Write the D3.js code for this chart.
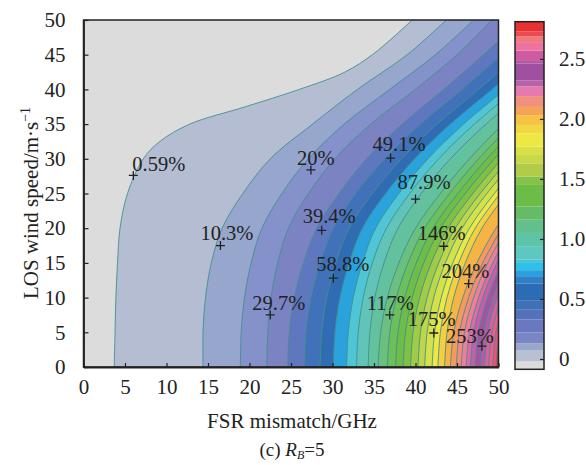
<!DOCTYPE html>
<html>
<head>
<meta charset="utf-8">
<script src="https://cdn.jsdelivr.net/npm/d3@7"></script>
<style>
  body { margin: 0; background: #fff; }
  text { font-family: "Liberation Serif", "Times New Roman", serif; fill: #222; }
</style>
</head>
<body>
<svg id="chart" width="586" height="465"></svg>
<script>
// axis ticks
const xTicks = [0, 5, 10, 15, 20, 25, 30, 35, 40, 45, 50];
const yTicks = [0, 5, 10, 15, 20, 25, 30, 35, 40, 45, 50];
const cbarTicks = [0, 0.5, 1.0, 1.5, 2.0, 2.5];

// contour lines, [FSR mismatch GHz, wind speed m/s], lowest level first
const contourLines = [
  [[3.7,0],[3.8,5],[3.9,10],[4.1,15],[4.4,20],[5.3,25],[7.2,30],[9.2,32.5],[12.8,35],[19.5,37.5],[26,40],[31.5,42.5],[34.8,45],[37.3,47.5],[39.6,50]],
  [[14.4,0],[14.4,5],[14.7,10],[15.4,15],[16.7,20],[19.2,25],[22.5,30],[27.6,35],[33.0,40],[39.0,45],[43.7,50]],
  [[18.9,0],[19.0,5],[19.4,10],[20.2,15],[21.5,20],[23.9,25],[27.1,30],[31.4,35],[36.9,40],[42.4,45],[47.0,50]],
  [[22.1,0],[22.2,5],[22.6,10],[23.4,15],[24.7,20],[27.1,25],[30.3,30],[34.6,35],[40.0,40],[45.0,45],[49.2,50]],
  [[24.6,0],[24.8,5],[25.4,10],[26.5,15],[28.1,20],[30.8,25],[34.1,30],[38.4,35],[43.4,40],[48.2,45],[52.6,50]],
  [[26.6,0],[26.8,5],[27.4,10],[28.5,15],[30.1,20],[32.8,25],[36.3,30],[40.6,35],[45.6,40],[50.4,45]],
  [[28.5,0],[28.7,5],[29.3,10],[30.4,15],[32.0,20],[34.8,25],[38.3,30],[42.6,35],[47.6,40],[52.4,45]],
  [[30.1,0],[30.3,5],[30.9,10],[32.0,15],[33.6,20],[36.4,25],[39.9,30],[44.2,35],[49.2,40],[54.0,45]],
  [[31.7,0],[31.9,5],[32.5,10],[33.6,15],[35.2,20],[38.0,25],[41.5,30],[45.8,35],[50.8,40]],
  [[32.9,0],[33.1,5],[33.7,10],[34.8,15],[36.5,20],[39.3,25],[42.8,30],[47.1,35],[52.1,40]],
  [[34.3,0],[34.5,5],[35.1,10],[36.2,15],[37.9,20],[40.7,25],[44.2,30],[48.5,35],[53.5,40]],
  [[35.5,0],[35.8,5],[36.6,10],[38.0,15],[40.0,20],[43.0,25],[46.5,30],[50.5,35]],
  [[36.6,0],[36.9,5],[37.7,10],[39.1,15],[41.1,20],[44.1,25],[47.6,30],[51.6,35]],
  [[37.6,0],[37.9,5],[38.7,10],[40.1,15],[42.1,20],[45.1,25],[48.6,30],[52.6,35]],
  [[38.5,0],[38.8,5],[39.6,10],[41.0,15],[43.0,20],[46.0,25],[49.5,30],[53.5,35]],
  [[39.4,0],[39.7,5],[40.5,10],[41.9,15],[43.9,20],[46.9,25],[50.4,30]],
  [[40.3,0],[40.6,5],[41.4,10],[42.8,15],[44.8,20],[47.8,25],[51.3,30]],
  [[41.1,0],[41.4,5],[42.2,10],[43.6,15],[45.6,20],[48.6,25],[52.1,30]],
  [[42.0,0],[42.3,5],[43.1,10],[44.5,15],[46.5,20],[49.5,25],[53.0,30]],
  [[42.7,0],[43.0,5],[43.8,10],[45.2,15],[47.2,20],[50.2,25]],
  [[43.5,0],[43.8,5],[44.6,10],[46.0,15],[48.0,20],[51.0,25]],
  [[44.2,0],[44.6,5],[45.7,10],[47.4,15],[49.7,20],[52.7,25]],
  [[44.9,0],[45.3,5],[46.4,10],[48.1,15],[50.4,20]],
  [[45.5,0],[45.9,5],[47.0,10],[48.7,15],[51.0,20]],
  [[46.1,0],[46.5,5],[47.6,10],[49.3,15],[51.6,20]],
  [[46.6,0],[47.0,5],[48.1,10],[49.8,15],[52.1,20]],
  [[47.2,0],[47.6,5],[48.7,10],[50.4,15]],
  [[47.8,0],[48.2,5],[49.3,10],[51.0,15]],
  [[48.3,0],[48.7,5],[49.8,10],[51.5,15]],
  [[48.8,0],[49.2,5],[50.3,10]],
  [[49.3,0],[49.7,5],[50.8,10]],
  [[49.7,0],[50.1,5],[51.2,10]]
];

// fill colour of each band, below the first line up to above the last one
const bandColors = [
  '#dcdcdc', '#b5bdd3', '#97a6cc', '#8491ca', '#7c83c3', '#5f77bf', '#4172b9', '#2f6cb3',
  '#2aa2dc', '#4fc5d5', '#62c3b8', '#63c19d', '#6bc07f', '#6cbf5b', '#6ebd48', '#7ec144',
  '#a1cb46', '#bdd64a', '#d6e04b', '#ece847', '#f5cf42', '#f5b444', '#f5995c', '#f38b7a',
  '#ef7f98', '#e06aa8', '#c45ea8', '#a5529f', '#b55aa6', '#d860a0', '#ec5c8c', '#f0507a',
  '#e82a2a'
];

// colour bar stripes [from, to, colour]
const cbarStripes = [
  [-0.086, -0.02, '#dcdcdc'], [-0.02, 0.075, '#b8c0d4'], [0.075, 0.13, '#98a6cc'],
  [0.13, 0.22, '#7a86c4'], [0.22, 0.33, '#6a78c0'], [0.33, 0.41, '#5472bc'],
  [0.41, 0.49, '#4070b8'], [0.49, 0.63, '#2c6cb4'], [0.63, 0.69, '#3080c8'],
  [0.69, 0.74, '#2aa0e0'], [0.74, 0.80, '#2ec0e8'], [0.80, 0.83, '#48c4d8'],
  [0.83, 0.94, '#5cc8c0'], [0.94, 1.05, '#5ec4a8'], [1.05, 1.16, '#62c08c'],
  [1.16, 1.27, '#66bc64'], [1.27, 1.45, '#6cbc48'], [1.45, 1.52, '#84c248'],
  [1.52, 1.63, '#b0cc48'], [1.63, 1.70, '#c8d848'], [1.70, 1.77, '#d8e048'],
  [1.77, 1.88, '#eee845'], [1.88, 1.95, '#f0d842'], [1.95, 2.03, '#f5c242'],
  [2.03, 2.10, '#f4a452'], [2.10, 2.19, '#f2907e'], [2.19, 2.27, '#e67ab0'],
  [2.27, 2.32, '#b862a8'], [2.32, 2.46, '#a050a0'], [2.46, 2.49, '#b458a4'],
  [2.49, 2.57, '#d05aa2'], [2.57, 2.64, '#ee72a0'], [2.64, 2.69, '#f07a7a'],
  [2.69, 2.73, '#ec4a52'], [2.73, 2.81, '#e83232']
];

// labelled points
const markers = [
  { x: 6.0, y: 27.6, label: '0.59%' },
  { x: 16.5, y: 17.5, label: '10.3%' },
  { x: 27.4, y: 28.4, label: '20%' },
  { x: 37.0, y: 30.1, label: '49.1%' },
  { x: 22.5, y: 7.5, label: '29.7%' },
  { x: 28.7, y: 19.7, label: '39.4%' },
  { x: 40.0, y: 24.2, label: '87.9%' },
  { x: 30.1, y: 12.8, label: '58.8%' },
  { x: 43.4, y: 17.4, label: '146%' },
  { x: 36.9, y: 7.5, label: '117%' },
  { x: 46.4, y: 12.0, label: '204%' },
  { x: 42.2, y: 4.9, label: '175%' },
  { x: 48.0, y: 3.0, label: '253%' }
];
// where each label text sits relative to its cross, px
const labelOffsets = [[-1,-4],[-20,-6],[-14,-5],[-18,-7],[-18,-5],[-19,-7],[-18,-10],[-17,-7],[-26,-6],[-23,-5],[-27,-6],[-26,-7],[-36,-3]];

const plot = { left: 83.5, right: 498.5, top: 20, bottom: 367 };
const bar = { left: 515, right: 544, top: 21.7, bottom: 369.3 };
const fontSize = 21;

const svg = d3.select('#chart');
const x = d3.scaleLinear().domain([0, 50]).range([plot.left, plot.right]);
const y = d3.scaleLinear().domain([0, 50]).range([plot.bottom, plot.top]);

svg.append('clipPath').attr('id', 'plotClip')
  .append('rect')
  .attr('x', plot.left).attr('y', plot.top)
  .attr('width', plot.right - plot.left).attr('height', plot.bottom - plot.top);

const field = svg.append('g').attr('clip-path', 'url(#plotClip)');

field.append('rect')
  .attr('x', plot.left).attr('y', plot.top)
  .attr('width', plot.right - plot.left).attr('height', plot.bottom - plot.top)
  .attr('fill', bandColors[0]);

const line = d3.line()
  .x(d => x(d[0]))
  .y(d => y(d[1]))
  .curve(d3.curveCatmullRom.alpha(0.5));

// each band: area to the right of its contour line
field.selectAll('path.band')
  .data(contourLines)
  .enter()
  .append('path')
  .attr('class', 'band')
  .attr('d', pts => {
    const last = pts[pts.length - 1];
    return line(pts) +
      'L' + x(60) + ',' + y(last[1]) +
      'L' + x(60) + ',' + y(-5) +
      'L' + x(pts[0][0]) + ',' + y(-5) + 'Z';
  })
  .attr('fill', (d, i) => bandColors[i + 1]);

field.selectAll('path.iso')
  .data(contourLines)
  .enter()
  .append('path')
  .attr('class', 'iso')
  .attr('d', line)
  .attr('fill', 'none')
  .attr('stroke', '#43908d')
  .attr('stroke-width', 0.9);

// axes
const xAxis = svg.append('g')
  .attr('transform', 'translate(0,' + plot.bottom + ')')
  .call(d3.axisBottom(x).tickValues(xTicks).tickSizeInner(-4).tickSizeOuter(0).tickPadding(12));
const yAxis = svg.append('g')
  .attr('transform', 'translate(' + plot.left + ',0)')
  .call(d3.axisLeft(y).tickValues(yTicks).tickSizeInner(-5).tickSizeOuter(0).tickPadding(18));

[xAxis, yAxis].forEach(g => {
  g.selectAll('text').style('font-size', fontSize + 'px').attr('fill', '#222')
    .style('font-family', '"Liberation Serif", "Times New Roman", serif');
  g.selectAll('line').attr('stroke', '#222').attr('stroke-width', 1.2);
  g.select('.domain').attr('stroke', '#222').attr('stroke-width', 1.8);
});

svg.append('rect')
  .attr('x', plot.left).attr('y', plot.top)
  .attr('width', plot.right - plot.left).attr('height', plot.bottom - plot.top)
  .attr('fill', 'none').attr('stroke', '#222').attr('stroke-width', 1.5);

// colour bar
const cy = d3.scaleLinear().domain([-0.086, 2.81]).range([bar.bottom, bar.top]);
svg.append('g').selectAll('rect')
  .data(cbarStripes)
  .enter()
  .append('rect')
  .attr('x', bar.left)
  .attr('width', bar.right - bar.left)
  .attr('y', d => cy(d[1]))
  .attr('height', d => cy(d[0]) - cy(d[1]))
  .attr('fill', d => d[2]);

const cAxis = svg.append('g')
  .attr('transform', 'translate(' + bar.right + ',0)')
  .call(d3.axisRight(cy).tickValues(cbarTicks).tickSizeInner(-4).tickSizeOuter(0).tickPadding(15)
    .tickFormat(d => d === 0 ? '0' : d3.format('.1f')(d)));
cAxis.select('.domain').remove();
cAxis.selectAll('text').style('font-size', fontSize + 'px').attr('fill', '#222')
  .style('font-family', '"Liberation Serif", "Times New Roman", serif');
cAxis.selectAll('line').attr('stroke', '#222').attr('stroke-width', 1.2);

svg.append('rect')
  .attr('x', bar.left).attr('y', bar.top)
  .attr('width', bar.right - bar.left).attr('height', bar.bottom - bar.top)
  .attr('fill', 'none').attr('stroke', '#222').attr('stroke-width', 1.5);

// labelled points
const mk = svg.append('g').selectAll('g')
  .data(markers)
  .enter()
  .append('g')
  .attr('transform', d => 'translate(' + x(d.x) + ',' + y(d.y) + ')');
mk.append('path')
  .attr('d', 'M-4.5,0H4.5M0,-4.5V4.5')
  .attr('stroke', '#222')
  .attr('stroke-width', 1.3);
mk.append('text')
  .attr('x', (d, i) => labelOffsets[i][0])
  .attr('y', (d, i) => labelOffsets[i][1])
  .style('font-size', '20.5px')
  .text(d => d.label);

// titles
svg.append('text')
  .attr('x', (plot.left + plot.right) / 2 + 1)
  .attr('y', 428)
  .attr('text-anchor', 'middle')
  .style('font-size', fontSize + 'px')
  .text('FSR mismatch/GHz');

const yLabel = svg.append('text')
  .attr('transform', 'translate(38,203) rotate(-90)')
  .attr('text-anchor', 'middle')
  .style('font-size', fontSize + 'px');
yLabel.append('tspan').text('LOS wind speed/m\u00b7s');
yLabel.append('tspan').attr('dy', -8).style('font-size', '14px').text('\u22121');

const caption = svg.append('text')
  .attr('x', 292)
  .attr('y', 456)
  .attr('text-anchor', 'middle')
  .style('font-size', '19px');
caption.append('tspan').text('(c) ');
caption.append('tspan').style('font-style', 'italic').text('R');
caption.append('tspan').attr('dy', 3).style('font-size', '12px').style('font-style', 'italic').text('B');
caption.append('tspan').attr('dy', -3).text('=5');
</script>
</body>
</html>
